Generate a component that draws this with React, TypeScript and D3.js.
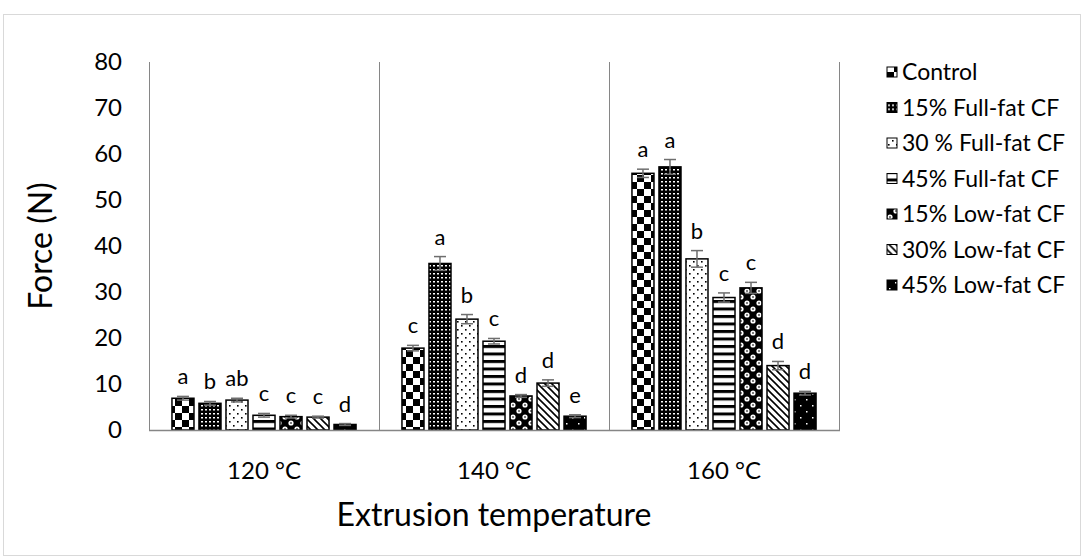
import React, { useRef, useEffect } from 'react'
import * as d3 from 'd3'

const temps = ['120 °C', '140 °C', '160 °C']
const series = [
	'Control',
	'15% Full-fat CF',
	'30 % Full-fat CF',
	'45% Full-fat CF',
	'15% Low-fat CF',
	'30% Low-fat CF',
	'45% Low-fat CF',
]
// one array per temperature, in series order
const force120 = [6.9, 5.8, 6.5, 3.2, 2.9, 2.8, 1.2]
const force140 = [17.8, 36.2, 24.1, 19.3, 7.4, 10.2, 3.0]
const force160 = [55.8, 57.2, 37.2, 28.8, 30.9, 14.0, 8.0]
const err120 = [0.4, 0.4, 0.4, 0.4, 0.3, 0.2, 0.2]
const err140 = [0.6, 1.5, 1.0, 0.6, 0.3, 0.7, 0.3]
const err160 = [0.9, 1.6, 1.8, 1.0, 1.2, 0.9, 0.4]
const letters120 = ['a', 'b', 'ab', 'c', 'c', 'c', 'd']
const letters140 = ['c', 'a', 'b', 'c', 'd', 'd', 'e']
const letters160 = ['a', 'a', 'b', 'c', 'c', 'd', 'd']
const yTicks = [0, 10, 20, 30, 40, 50, 60, 70, 80]

const FONT = 'Lato, "Open Sans", sans-serif'

const App = () => {
	const svgRef = useRef(null)

	useEffect(() => {
		document.body.style.margin = '0'
		const svg = d3.select(svgRef.current)
		svg.selectAll('*').remove()

		const values = [force120, force140, force160]
		const errs = [err120, err140, err160]
		const lets = [letters120, letters140, letters160]
		const data = temps.flatMap((t, gi) =>
			series.map((s, si) => ({
				temp: t,
				series: s,
				si,
				value: values[gi][si],
				err: errs[gi][si],
				letter: lets[gi][si],
			}))
		)

		const left = 149,
			right = 839,
			top = 62,
			bottom = 430

		const x0 = d3.scaleBand().domain(temps).range([left, right])
		const x1 = d3
			.scaleBand()
			.domain(series)
			.range([0, x0.bandwidth()])
			.paddingInner(0.185)
			.paddingOuter(0.85)
		const y = d3.scaleLinear().domain([0, 80]).range([bottom, top])

		// patterns
		const defs = svg.append('defs')
		const pat = (id, w, h) =>
			defs
				.append('pattern')
				.attr('id', id)
				.attr('patternUnits', 'userSpaceOnUse')
				.attr('width', w)
				.attr('height', h)

		let p = pat('p0', 14, 14)
		p.append('rect').attr('width', 14).attr('height', 14).attr('fill', '#fff')
		p.append('rect').attr('width', 7).attr('height', 7).attr('fill', '#000')
		p.append('rect').attr('x', 7).attr('y', 7).attr('width', 7).attr('height', 7).attr('fill', '#000')

		p = pat('p1', 4, 4)
		p.append('rect').attr('width', 4).attr('height', 4).attr('fill', '#000')
		p.append('rect').attr('x', 1).attr('y', 1).attr('width', 2).attr('height', 1.5).attr('fill', '#fff')

		p = pat('p2', 8, 8)
		p.append('rect').attr('width', 8).attr('height', 8).attr('fill', '#fff')
		p.append('rect').attr('x', 1).attr('y', 1).attr('width', 1.6).attr('height', 1.6).attr('fill', '#000')
		p.append('rect').attr('x', 5).attr('y', 5).attr('width', 1.6).attr('height', 1.6).attr('fill', '#000')

		p = pat('p3', 8, 7.5)
		p.append('rect').attr('width', 8).attr('height', 7.5).attr('fill', '#fff')
		p.append('rect').attr('width', 8).attr('height', 3).attr('fill', '#000')

		p = pat('p4', 12, 12)
		p.append('rect').attr('width', 12).attr('height', 12).attr('fill', '#000')
		p.append('circle').attr('cx', 3).attr('cy', 3).attr('r', 2.6).attr('fill', '#fff')
		p.append('circle').attr('cx', 9).attr('cy', 9).attr('r', 2.6).attr('fill', '#fff')
		p.append('rect').attr('x', 2).attr('y', 2.5).attr('width', 2).attr('height', 1).attr('fill', '#000')
		p.append('rect').attr('x', 8).attr('y', 8.5).attr('width', 2).attr('height', 1).attr('fill', '#000')

		p = pat('p5', 7, 7)
		p.append('rect').attr('width', 7).attr('height', 7).attr('fill', '#fff')
		p.append('path')
			.attr('d', 'M-2,-2 L9,9 M-2,5 L2,9 M5,-2 L9,2')
			.attr('stroke', '#000')
			.attr('stroke-width', 1.6)

		p = pat('p6', 12, 12)
		p.append('rect').attr('width', 12).attr('height', 12).attr('fill', '#000')
		p.append('rect').attr('x', 2).attr('y', 3).attr('width', 1.5).attr('height', 1.5).attr('fill', '#fff')
		p.append('rect').attr('x', 8).attr('y', 9).attr('width', 1.5).attr('height', 1.5).attr('fill', '#fff')

		// outer frame
		svg.append('rect')
			.attr('x', 3.5)
			.attr('y', 14.5)
			.attr('width', 1077)
			.attr('height', 541)
			.attr('fill', '#fff')
			.attr('stroke', '#d9d9d9')

		// category separators
		const seps = temps.map((t) => x0(t) + x0.bandwidth())
		svg.selectAll('.sep')
			.data(seps)
			.join('line')
			.attr('x1', (d) => Math.round(d) + 0.5)
			.attr('x2', (d) => Math.round(d) + 0.5)
			.attr('y1', top)
			.attr('y2', bottom)
			.attr('stroke', '#868686')
			.attr('stroke-width', 1)

		// y axis
		svg.append('line')
			.attr('x1', left + 0.5)
			.attr('x2', left + 0.5)
			.attr('y1', top)
			.attr('y2', bottom)
			.attr('stroke', '#868686')
		svg.selectAll('.yt')
			.data(yTicks)
			.join('text')
			.attr('x', 122)
			.attr('y', (d) => y(d))
			.attr('dy', '0.35em')
			.attr('text-anchor', 'end')
			.style('font-family', FONT)
			.style('font-size', '24px')
			.attr('fill', '#000')
			.text((d) => d)

		// bars
		const g = svg.append('g')
		g.selectAll('rect')
			.data(data)
			.join('rect')
			.attr('x', (d) => x0(d.temp) + x1(d.series))
			.attr('y', (d) => y(d.value))
			.attr('width', x1.bandwidth())
			.attr('height', (d) => y(0) - y(d.value))
			.attr('fill', (d) => `url(#p${d.si})`)
			.attr('stroke', '#000')
			.attr('stroke-width', 1.5)

		// error bars
		const eb = svg.append('g').attr('stroke', '#6e6e6e').attr('stroke-width', 1.5)
		data.forEach((d) => {
			const cx = x0(d.temp) + x1(d.series) + x1.bandwidth() / 2
			const y1 = y(d.value + d.err),
				y2 = y(d.value - d.err)
			eb.append('line').attr('x1', cx).attr('x2', cx).attr('y1', y1).attr('y2', y2)
			eb.append('line').attr('x1', cx - 6).attr('x2', cx + 6).attr('y1', y1).attr('y2', y1)
			eb.append('line').attr('x1', cx - 6).attr('x2', cx + 6).attr('y1', y2).attr('y2', y2)
		})

		// significance letters
		svg.selectAll('.lt')
			.data(data)
			.join('text')
			.attr('x', (d) => x0(d.temp) + x1(d.series) + x1.bandwidth() / 2)
			.attr('y', (d) => y(d.value + d.err) - 12)
			.attr('text-anchor', 'middle')
			.style('font-family', FONT)
			.style('font-size', '22px')
			.text((d) => d.letter)

		// x axis
		svg.append('line')
			.attr('x1', left)
			.attr('x2', right + 1)
			.attr('y1', bottom + 0.5)
			.attr('y2', bottom + 0.5)
			.attr('stroke', '#868686')
			.attr('stroke-width', 1.5)
		svg.selectAll('.xt')
			.data(temps)
			.join('text')
			.attr('x', (d) => x0(d) + x0.bandwidth() / 2)
			.attr('y', 479)
			.attr('text-anchor', 'middle')
			.style('font-family', FONT)
			.style('font-size', '24px')
			.text((d) => d)

		// axis titles
		svg.append('text')
			.attr('x', (left + right) / 2)
			.attr('y', 526)
			.attr('text-anchor', 'middle')
			.style('font-family', FONT)
			.style('font-size', '32px')
			.text('Extrusion temperature')
		svg.append('text')
			.attr('transform', `translate(52, ${(top + bottom) / 2}) rotate(-90)`)
			.attr('text-anchor', 'middle')
			.style('font-family', FONT)
			.style('font-size', '32px')
			.text('Force (N)')

		// legend
		const lg = svg
			.selectAll('.lg')
			.data(series)
			.join('g')
			.attr('transform', (d, i) => `translate(887, ${72 + i * 35.5})`)
		lg.append('rect')
			.attr('x', 0)
			.attr('y', -5)
			.attr('width', 10)
			.attr('height', 10)
			.attr('fill', (d, i) => `url(#p${i})`)
			.attr('stroke', '#000')
			.attr('stroke-width', 1)
		lg.append('text')
			.attr('x', 15)
			.attr('dy', '0.35em')
			.style('font-family', FONT)
			.style('font-size', '23px')
			.text((d) => d)
	}, [])

	return <svg ref={svgRef} width={1084} height={559} style={{ display: 'block' }}></svg>
}

export default App
